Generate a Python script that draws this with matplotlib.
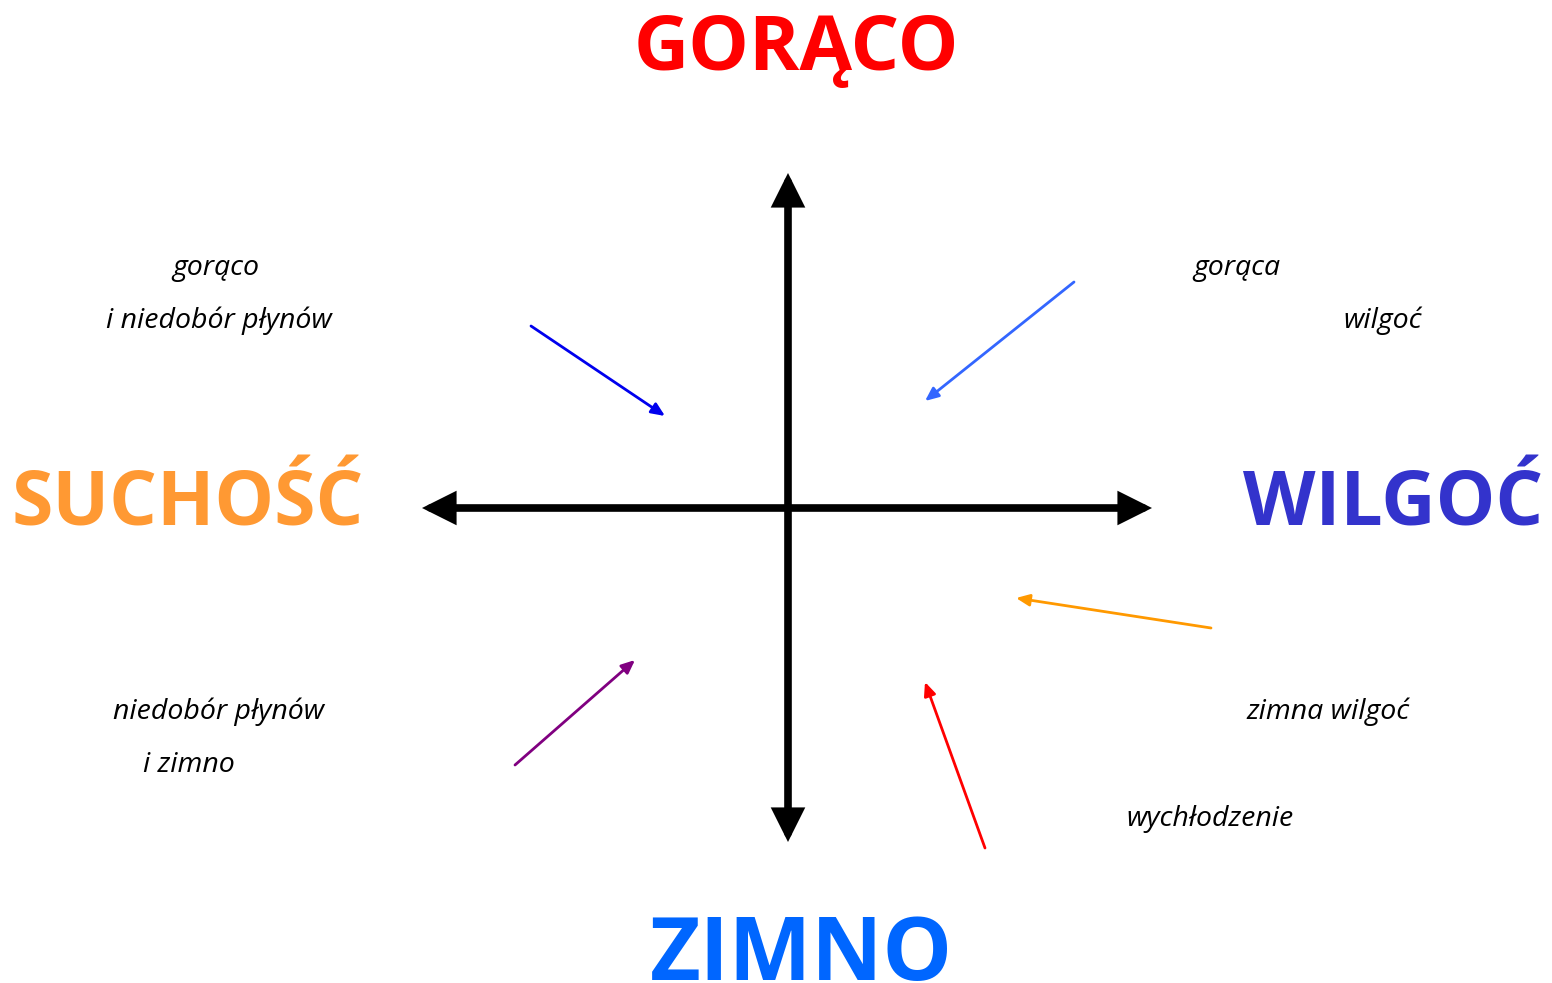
import matplotlib
matplotlib.use("Agg")
import matplotlib.pyplot as plt

W, H = 1552, 983

# big axis labels (centre x, baseline y)
big_labels = ["GORĄCO", "SUCHOŚĆ", "WILGOĆ", "ZIMNO"]
big_x = [796, 188, 1393, 801]
big_y = [70, 525, 525, 980]
big_colors = ["#FF0000", "#FF9933", "#3333CC", "#0066FF"]
big_sizes = [55, 54, 54, 63]

# small italic notes (left edge, vertical centre)
notes = ["gorąco", "i niedobór płynów", "gorąca", "wilgoć",
         "niedobór płynów", "i zimno", "zimna wilgoć", "wychłodzenie"]
notes_x = [172, 106, 1193, 1343, 113, 143, 1246, 1126]
notes_y = [268, 321, 268, 321, 712, 765, 712, 819]

# thin pointer arrows: start -> end
ptr_start = [(531, 326), (1074, 282), (1211, 628), (985, 848), (515, 765)]
ptr_end = [(665, 416), (925, 401), (1016, 598), (925, 682), (635, 660)]
ptr_colors = ["#0000EE", "#3366FF", "#FF9900", "#FF0000", "#800080"]

# main cross
h_axis = (422, 1152, 508)   # x0, x1, y
v_axis = (788, 173, 842)    # x, y0, y1

fig = plt.figure(figsize=(W / 100, H / 100), dpi=100)
ax = fig.add_axes([0, 0, 1, 1])
ax.set_xlim(0, W)
ax.set_ylim(H, 0)
ax.axis("off")

bold = dict(family=["Open Sans", "DejaVu Sans"], weight="bold")
ital = dict(family=["Open Sans", "DejaVu Sans"], style="italic")

head = dict(arrowstyle="<|-|>,head_length=1.6,head_width=0.8", color="black",
            lw=5.5, shrinkA=0, shrinkB=0, joinstyle="miter")
ax.annotate("", xy=(h_axis[0], h_axis[2]), xytext=(h_axis[1], h_axis[2]),
            arrowprops=head)
ax.annotate("", xy=(v_axis[0], v_axis[1]), xytext=(v_axis[0], v_axis[2]),
            arrowprops=head)

for s, e, c in zip(ptr_start, ptr_end, ptr_colors):
    ax.annotate("", xy=e, xytext=s,
                arrowprops=dict(arrowstyle="-|>,head_length=0.8,head_width=0.35",
                                color=c, lw=2, shrinkA=0, shrinkB=0))

for t, x, y, c, s in zip(big_labels, big_x, big_y, big_colors, big_sizes):
    ax.text(x, y, t, color=c, fontsize=s, ha="center", va="baseline", **bold)

for t, x, y in zip(notes, notes_x, notes_y):
    ax.text(x, y, t, color="black", fontsize=20.5, ha="left", va="center", **ital)

fig.savefig("out.png", dpi=100)
